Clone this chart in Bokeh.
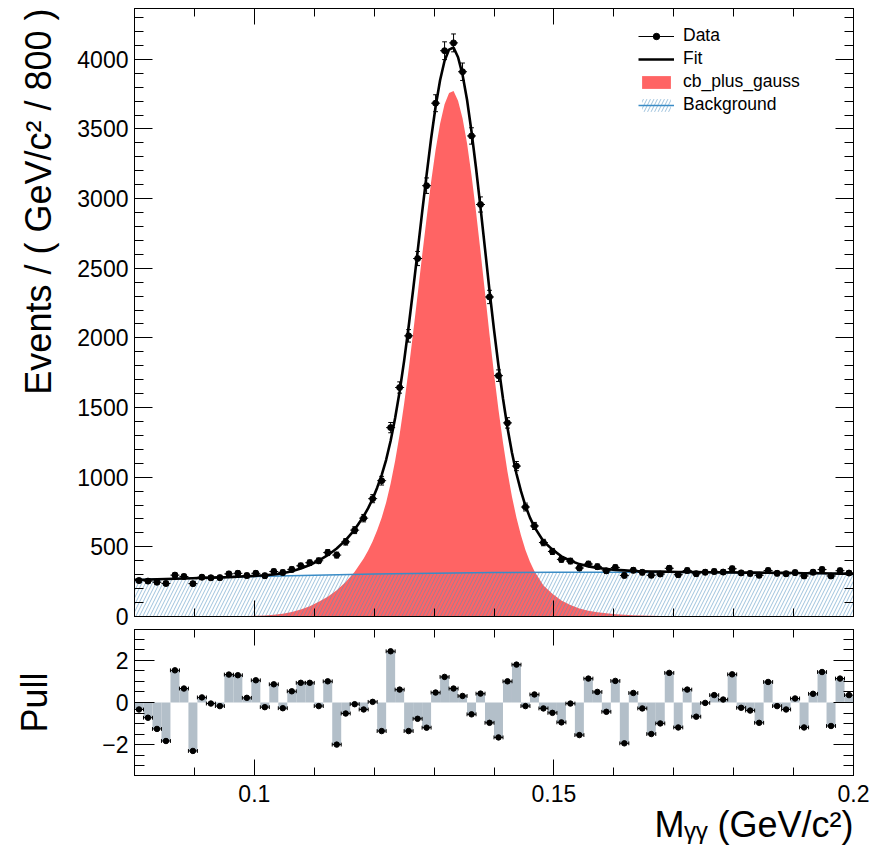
import numpy as np
from bokeh.plotting import figure
from bokeh.layouts import column
from bokeh.models import (FixedTicker, LinearAxis, Range1d, Legend, LegendItem,
                          Title, CustomJSTickFormatter)
from bokeh.embed import file_html
from bokeh.resources import INLINE

# ---------------- data ----------------
x_lo, x_hi = 0.08, 0.2
bin_width = 0.0015

counts = [258, 254, 246, 237, 297, 287, 236, 282, 278, 279,
          306, 310, 294, 310, 293, 323, 316, 338, 364, 386,
          400, 459, 441, 536, 620, 706, 846, 975, 1356, 1644,
          2015, 2570, 3093, 3685, 4062, 4118, 3911, 3450, 2958, 2294,
          1729, 1390, 1080, 786, 650, 531, 467, 410, 398, 348,
          377, 358, 328, 352, 295, 332, 317, 296, 305, 346,
          300, 330, 307, 318, 323, 319, 343, 313, 309, 296,
          330, 310, 307, 315, 291, 318, 337, 291, 329, 312]

pulls = [-0.33, -0.72, -1.25, -1.82, 1.52, 0.66, -2.29, 0.24, -0.05, -0.17,
         1.32, 1.29, 0.22, 1.05, -0.22, 0.86, -0.27, 0.53, 0.93, 0.93,
         -0.17, 1.00, -1.99, -0.52, -0.08, -0.33, 0.03, -1.35, 2.42, 0.61,
         -1.35, -0.77, -1.19, 0.47, 1.21, 0.66, 0.31, -0.56, 0.42, -0.96,
         -1.65, 1.00, 1.79, -0.17, 0.38, -0.28, -0.49, -0.94, -0.05, -1.54,
         1.13, 0.50, -0.44, 1.02, -1.93, 0.45, -0.28, -1.49, -0.99, 1.40,
         -1.18, 0.61, -0.67, -0.02, 0.35, 0.14, 1.33, -0.25, -0.38, -0.96,
         0.97, -0.17, -0.33, 0.19, -1.18, 0.41, 1.44, -1.11, 1.13, 0.35]

curve_x = [0.08000, 0.08075, 0.08225, 0.08375, 0.08525, 0.08675, 0.08825, 0.08975,
           0.09125, 0.09275, 0.09425, 0.09575, 0.09725, 0.09875, 0.10025, 0.10175,
           0.10325, 0.10475, 0.10625, 0.10775, 0.10925, 0.11075, 0.11225, 0.11375,
           0.11525, 0.11675, 0.11825, 0.11900, 0.11975, 0.12050, 0.12125, 0.12200,
           0.12275, 0.12350, 0.12425, 0.12500, 0.12575, 0.12650, 0.12725, 0.12800,
           0.12875, 0.12950, 0.13025, 0.13100, 0.13175, 0.13250, 0.13325, 0.13400,
           0.13475, 0.13550, 0.13625, 0.13700, 0.13775, 0.13850, 0.13925, 0.14000,
           0.14075, 0.14150, 0.14225, 0.14300, 0.14375, 0.14450, 0.14525, 0.14600,
           0.14675, 0.14825, 0.14975, 0.15125, 0.15275, 0.15425, 0.15575, 0.15725,
           0.15875, 0.16025, 0.16175, 0.16325, 0.16475, 0.16625, 0.16775, 0.16925,
           0.17075, 0.17225, 0.17375, 0.17525, 0.17675, 0.17825, 0.17975, 0.18125,
           0.18275, 0.18425, 0.18575, 0.18725, 0.18875, 0.19025, 0.19175, 0.19325,
           0.19475, 0.19625, 0.19775, 0.19925, 0.20000]

fit_y = [263, 264, 265, 267, 269, 271, 273, 275,
         277, 279, 281, 283, 286, 289, 292, 296,
         302, 311, 325, 345, 370, 402, 440, 488,
         548, 624, 720, 778, 845, 925, 1015, 1125,
         1262, 1425, 1615, 1835, 2080, 2345, 2620, 2900,
         3170, 3430, 3660, 3850, 3990, 4070, 4085, 4015,
         3890, 3710, 3480, 3220, 2935, 2640, 2340, 2060,
         1800, 1565, 1355, 1175, 1025, 900, 795, 710,
         642, 540, 480, 432, 400, 376, 360, 349,
         341, 335, 331, 327, 325, 323, 322, 321,
         320, 319, 319, 318, 318, 317, 317, 316,
         315, 315, 314, 313, 313, 312, 311, 311,
         310, 309, 308, 307, 307]

sig_y = [0, 0, 0, 0, 0, 0, 0, 0,
         0, 0, 1, 1, 2, 3, 5, 7,
         12, 20, 32, 51, 74, 105, 142, 188,
         247, 322, 416, 474, 540, 620, 709, 819,
         955, 1118, 1307, 1527, 1771, 2036, 2310, 2590,
         2859, 3119, 3349, 3538, 3678, 3758, 3773, 3702,
         3577, 3397, 3166, 2906, 2620, 2325, 2025, 1745,
         1485, 1250, 1039, 859, 709, 583, 478, 393,
         325, 223, 163, 115, 82, 58, 42, 31,
         23, 17, 13, 9, 7, 5, 4, 3,
         2, 2, 1, 1, 1, 1, 0, 0,
         0, 0, 0, 0, 0, 0, 0, 0,
         0, 0, 0, 0, 0]

bkg_x = [0.08, 0.09, 0.10, 0.11, 0.12, 0.13, 0.14, 0.15, 0.16, 0.17, 0.18, 0.19, 0.20]
bkg_y = [263, 276, 287, 297, 305, 311, 315, 317, 318, 317, 314, 311, 307]

x_major = [0.1, 0.15, 0.2]
x_minor = [0.08, 0.09, 0.10, 0.11, 0.12, 0.13, 0.14, 0.15, 0.16, 0.17, 0.18, 0.19, 0.20]
y_major = [0, 500, 1000, 1500, 2000, 2500, 3000, 3500, 4000]
y_minor = list(range(0, 4400, 100))
p_major = [-2, 0, 2]
p_minor = [-3, -2.5, -2, -1.5, -1, -0.5, 0, 0.5, 1, 1.5, 2, 2.5, 3]

y_title = "Events / ( GeV/c\u00b2 / 800 )"
x_title = "M\u1d67\u1d67 (GeV/c\u00b2)"
pull_title = "Pull"

# ---------------- derived ----------------
counts_a = np.array(counts, dtype=float)
pulls_a = np.array(pulls, dtype=float)
centers = x_lo + bin_width * (np.arange(len(counts)) + 0.5)
err = np.sqrt(counts_a)
half = bin_width / 2
cap = 0.0004

FONT = "Liberation Sans"
RED = "#ff6464"
GRAY = "#b3bfc9"
BLUE = "#3a8cc6"

L_B, R_B = 133, 25
TOP_H, BOT_H = 629, 216
Y_MAX = 4365
P_LIM = 3.45


def add_axis(fig, side, ticks, minor, maj_len, min_len, labels, fs="23px", standoff=6):
    ax = LinearAxis(ticker=FixedTicker(ticks=ticks, minor_ticks=minor))
    ax.major_tick_in = maj_len
    ax.major_tick_out = 0
    ax.minor_tick_in = min_len
    ax.minor_tick_out = 0
    ax.axis_line_color = "black"
    ax.major_tick_line_color = "black"
    ax.minor_tick_line_color = "black"
    if labels:
        ax.major_label_text_font = FONT
        ax.major_label_text_font_size = fs
        ax.major_label_text_color = "black"
        ax.major_label_standoff = standoff
    else:
        ax.formatter = CustomJSTickFormatter(code="return ''")
        ax.major_label_text_font_size = "0px"
        ax.major_label_standoff = 0
    fig.add_layout(ax, side)
    return ax


def side_title(fig, text, side, align, standoff, fallback=0):
    t = Title(text=text, align=align, text_font=FONT, text_font_size="36px",
              text_font_style="normal", text_color="black")
    try:
        t.standoff = standoff
    except Exception:
        t.standoff = fallback
    fig.add_layout(t, side)
    return t


# ---------------- top panel ----------------
top = figure(width=878, height=TOP_H, x_range=Range1d(x_lo, x_hi), y_range=Range1d(0, Y_MAX),
             output_backend="svg", toolbar_location=None,
             x_axis_location=None, y_axis_location=None,
             min_border_left=L_B, min_border_right=R_B, min_border_top=8, min_border_bottom=13)
top.grid.visible = False
top.outline_line_color = "black"
top.outline_line_width = 1
top.background_fill_color = "white"

add_axis(top, "left", y_major, y_minor, 18, 9, True)
add_axis(top, "right", y_major, y_minor, 18, 9, False)
add_axis(top, "below", x_major, x_minor, 16, 8, False)
add_axis(top, "above", x_major, x_minor, 16, 8, False)
side_title(top, y_title, "left", "right", 31)

r_sig = top.varea(x=curve_x, y1=0, y2=sig_y, fill_color=RED, fill_alpha=1.0)
r_bkg_fill = top.varea(x=bkg_x, y1=0, y2=bkg_y, fill_alpha=0, hatch_pattern="/",
                       hatch_color="#4f8fc0", hatch_alpha=0.55, hatch_scale=7, hatch_weight=1)
r_bkg_line = top.line(x=bkg_x, y=bkg_y, line_color=BLUE, line_width=1.5)
r_fit = top.line(x=curve_x, y=fit_y, line_color="black", line_width=2.6)

r_hx = top.segment(x0=centers - half, y0=counts_a, x1=centers + half, y1=counts_a,
                   line_color="black", line_width=1)
top.segment(x0=centers, y0=counts_a - err, x1=centers, y1=counts_a + err,
            line_color="black", line_width=1)
top.segment(x0=centers - cap, y0=counts_a + err, x1=centers + cap, y1=counts_a + err,
            line_color="black", line_width=1)
top.segment(x0=centers - cap, y0=counts_a - err, x1=centers + cap, y1=counts_a - err,
            line_color="black", line_width=1)
r_pts = top.scatter(x=centers, y=counts_a, size=6, marker="circle",
                    fill_color="black", line_color="black")

legend = Legend(items=[
    LegendItem(label="Data", renderers=[r_hx, r_pts]),
    LegendItem(label="Fit", renderers=[r_fit]),
    LegendItem(label="cb_plus_gauss", renderers=[r_sig]),
    LegendItem(label="Background", renderers=[r_bkg_fill, r_bkg_line]),
], location=(500, 497))
legend.glyph_width = 36
legend.glyph_height = 16
legend.label_height = 16
legend.spacing = 2
legend.padding = 4
legend.margin = 0
legend.label_standoff = 9
legend.label_text_font = FONT
legend.label_text_font_size = "17.5px"
legend.label_text_color = "black"
legend.background_fill_alpha = 0
legend.border_line_alpha = 0
top.add_layout(legend)

# ---------------- pull panel ----------------
bot = figure(width=878, height=BOT_H, x_range=top.x_range, y_range=Range1d(-P_LIM, P_LIM),
             output_backend="svg", toolbar_location=None,
             x_axis_location=None, y_axis_location=None,
             min_border_left=L_B, min_border_right=R_B, min_border_top=0,
             min_border_bottom=BOT_H - 146)
bot.grid.visible = False
bot.outline_line_color = "black"
bot.outline_line_width = 1

pull_axis = add_axis(bot, "left", p_major, p_minor, 20, 10, True)
pull_axis.axis_label = pull_title
pull_axis.axis_label_text_font = FONT
pull_axis.axis_label_text_font_size = "36px"
pull_axis.axis_label_text_font_style = "normal"
pull_axis.axis_label_text_color = "black"
pull_axis.axis_label_standoff = 44
add_axis(bot, "right", p_major, p_minor, 20, 10, False)
add_axis(bot, "below", x_major, x_minor, 16, 8, True, standoff=9)
add_axis(bot, "above", x_major, x_minor, 16, 8, False)
side_title(bot, x_title, "below", "right", -6, fallback=0)

bot.vbar(x=centers, top=pulls_a, bottom=0, width=bin_width, fill_color=GRAY, line_color=None)
bot.segment(x0=centers - half, y0=pulls_a, x1=centers + half, y1=pulls_a,
            line_color="black", line_width=1)
bot.segment(x0=centers - half, y0=pulls_a - 0.09, x1=centers - half, y1=pulls_a + 0.09,
            line_color="black", line_width=1)
bot.segment(x0=centers + half, y0=pulls_a - 0.09, x1=centers + half, y1=pulls_a + 0.09,
            line_color="black", line_width=1)
bot.scatter(x=centers, y=pulls_a, size=5.5, marker="circle", fill_color="black", line_color="black")

layout = column(top, bot, spacing=0)
open("out.html", "w").write(file_html(layout, INLINE))
